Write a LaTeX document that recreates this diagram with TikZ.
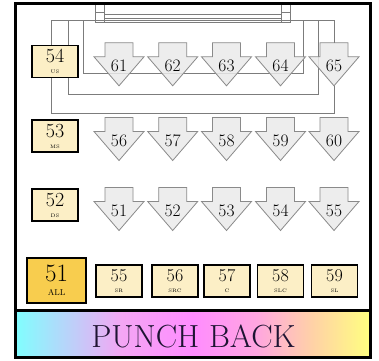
\documentclass[tikz,border=0pt]{standalone}
\usepackage{xcolor}
\usepackage{tikz}
\usetikzlibrary{positioning}
\definecolor{cream}{HTML}{FCEFC6}
\definecolor{gold}{HTML}{F8CD4E}
\definecolor{arrowgray}{HTML}{EAEAEA}
\definecolor{edgegray}{HTML}{8A8A8A}
\definecolor{wiregray}{HTML}{7C7C7C}
\definecolor{ink}{HTML}{1E1433}
\pgfdeclarehorizontalshading{punchbar}{100bp}{%
  color(0bp)=(cyan!50);
  color(25bp)=(cyan!50);
  color(40bp)=(violet!25!magenta!35);
  color(50bp)=(magenta!45);
  color(59bp)=(red!35!magenta!35);
  color(67bp)=(orange!35);
  color(75bp)=(yellow!50);
  color(100bp)=(yellow!50)}
\newcommand{\sublabel}[1]{{\fontsize{5}{6}\selectfont #1}}
\tikzset{
  keybox/.style={
    rectangle, draw=black, fill=#1, line width=1.2pt,
    minimum width=46pt, minimum height=32pt, inner sep=0pt,
    align=center, font=\fontsize{20}{11}\selectfont
  },
  keybox/.default=cream,
  shotbox/.style={
    keybox, minimum height=32pt, font=\fontsize{18}{11}\selectfont
  },
  allbox/.style={
    keybox=gold, minimum width=59pt, minimum height=45pt,
    font=\fontsize{25}{14}\selectfont
  },
  arrowbody/.style={draw=edgegray, fill=arrowgray, fill opacity=0.85, line width=0.8pt},
  arrownum/.style={font=\fontsize{17.5}{18}\selectfont, inner sep=0pt},
  loopline/.style={draw=wiregray, line width=0.7pt},
  pics/pusharrow/.style={code={
    \draw[arrowbody] (-14,-21.5) -- (14,-21.5) -- (14,-7.5) -- (25,-7.5)
      -- (0,21.5) -- (-25,-7.5) -- (-14,-7.5) -- cycle;
    \coordinate (-top) at (0,-21.5);
    \coordinate (-tip) at (0,21.5);
    \node[arrownum] (-num) at (0,1.5) {#1};
  }},
}
\begin{document}
\begin{tikzpicture}[x=1pt, y=-1pt]
  \useasboundingbox (0,0) rectangle (379,360);
  \fill[white] (15,3) rectangle (370,357);
  % wiring behind the pads
  \coordinate (ringAtop) at (51.7,20);
  \coordinate (ringAbot) at (51.7,113);
  \coordinate (ringBtop) at (68.3,20);
  \coordinate (ringBbot) at (318.3,94);
  \coordinate (ringCtop) at (83.3,20);
  \coordinate (ringCbot) at (303.3,73);
  \draw[loopline] (ringBtop) rectangle (ringBbot);
  \draw[loopline] (ringCtop) rectangle (ringCbot);
  \draw[loopline] (95,3) rectangle (104,22);
  \draw[loopline] (281,3) rectangle (290,22);
  \draw[loopline] (95,12) -- (104,12) (281,12) -- (290,12);
  \draw[loopline] (104,14) -- (281,14) (104,18) -- (281,18) (95,22) -- (290,22);
  % rows of arrows
  \foreach \n/\x in {61/119, 62/172.7, 63/226.5, 64/280.5, 65/334}
    \pic (a\n) at (\x,64.3) {pusharrow=\n};
  \foreach \n/\x in {56/119, 57/172.7, 58/226.5, 59/280.5, 60/334}
    \pic (b\n) at (\x,139) {pusharrow=\n};
  \foreach \n/\x in {51/119, 52/172.7, 53/226.5, 54/280.5, 55/334}
    \pic (c\n) at (\x,209) {pusharrow=\n};
  \draw[loopline] (a65-top) |- (ringAtop) -- (ringAbot) -| (a65-tip);
  % side pads
  \node[keybox] (k54) at (55,61.5) {54\\\sublabel{US}};
  \node[keybox] (k53) at (55,136) {53\\\sublabel{MS}};
  \node[keybox] (k52) at (55,205) {52\\\sublabel{DS}};
  % bottom pads
  \node[allbox] (k51) at (56.5,280.5) {51\\{\fontsize{8.5}{9}\selectfont ALL}};
  \foreach \n/\s/\x in {55/SR/119, 56/SRC/175, 57/C/227, 58/SLC/280.5, 59/SL/334.5}
    \node[shotbox] (s\n) at (\x,281) {\n\\\sublabel{\s}};
  % frame and bar
  \shade[shading=punchbar] (15,310) rectangle (370,357);
  \draw[line width=3pt] (15,3) rectangle (370,357);
  \draw[line width=3pt] (15,310) -- (370,310);
  \node[font=\fontsize{32}{32}\selectfont, text=ink, inner sep=0pt] (punch) at (193.5,336) {PUNCH BACK};
\end{tikzpicture}
\end{document}
